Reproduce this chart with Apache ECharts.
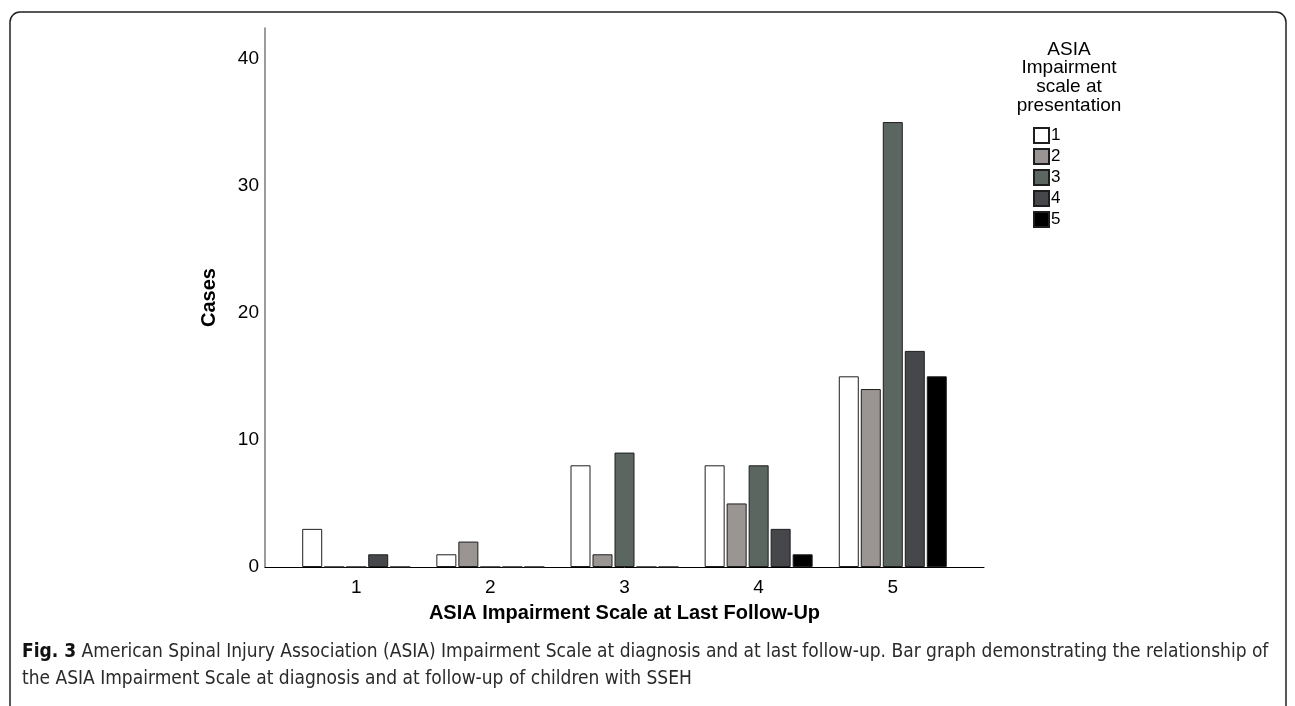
<!DOCTYPE html>
<html>
<head>
<meta charset="utf-8">
<script src="https://cdn.jsdelivr.net/npm/echarts@6/dist/echarts.min.js"></script>
<style>
  html, body { margin: 0; padding: 0; background: #fff; }
  #chart { width: 1295px; height: 706px; }
</style>
</head>
<body>
<div id="chart"></div>
<script>
// Categories: ASIA Impairment Scale at Last Follow-Up
const categories = [1, 2, 3, 4, 5];
// Series: ASIA Impairment scale at presentation
const seriesNames = ['1', '2', '3', '4', '5'];
const presentation1 = [3, 1, 8, 8, 15];
const presentation2 = [0, 2, 1, 5, 14];
const presentation3 = [0, 0, 9, 8, 35];
const presentation4 = [1, 0, 0, 3, 17];
const presentation5 = [0, 0, 0, 1, 15];
const yTicks = [0, 10, 20, 30, 40];

const seriesValues = [presentation1, presentation2, presentation3, presentation4, presentation5];
const colors = ['#ffffff', '#9a9593', '#5b6660', '#46474a', '#000000'];

const fontMain = "'Liberation Sans', Arial, Helvetica, sans-serif";
const fontCaption = "'Liberation Sans Narrow', 'DejaVu Sans Condensed', 'Open Sans', sans-serif";

const chart = echarts.init(document.getElementById('chart'), null, { renderer: 'canvas' });

const series = seriesValues.map((vals, i) => ({
  name: seriesNames[i],
  type: 'bar',
  data: categories.map((c, j) => [c, vals[j]]),
  barWidth: 20,
  barGap: '10%',
  itemStyle: {
    color: colors[i],
    borderColor: '#1e1e1e',
    borderWidth: 1
  },
  emphasis: { disabled: true },
  animation: false
}));

const option = {
  animation: false,
  backgroundColor: '#ffffff',
  grid: {
    left: 265,
    top: 28,
    width: 719,
    height: 539,
    containLabel: false
  },
  legend: {
    orient: 'vertical',
    left: 1028,
    top: 122,
    itemWidth: 15,
    itemHeight: 15,
    itemGap: 4,
    icon: 'rect',
    selectedMode: false,
    data: seriesNames,
    textStyle: { fontFamily: fontMain, fontSize: 17, color: '#000', padding: [0, 0, 0, -3] }
  },
  xAxis: {
    type: 'value',
    min: 0.32,
    max: 5.68,
    name: 'ASIA Impairment Scale at Last Follow-Up',
    nameLocation: 'middle',
    nameGap: 36,
    nameTextStyle: { fontFamily: fontMain, fontSize: 20, fontWeight: 'bold', color: '#000' },
    axisLine: { show: true, lineStyle: { color: '#000', width: 1 } },
    axisTick: { show: false },
    splitLine: { show: false },
    axisLabel: {
      showMinLabel: false,
      showMaxLabel: false,
      margin: 11,
      fontFamily: fontMain,
      fontSize: 19,
      color: '#000',
      formatter: function (v) {
        return categories.indexOf(v) >= 0 ? String(v) : '';
      }
    }
  },
  yAxis: {
    type: 'value',
    min: 0,
    max: 42.4,
    interval: 10,
    name: 'Cases',
    nameLocation: 'middle',
    nameGap: 46,
    nameRotate: 90,
    nameTextStyle: { fontFamily: fontMain, fontSize: 20, fontWeight: 'bold', color: '#000' },
    axisLine: { show: true, lineStyle: { color: '#7a7a7a', width: 1.5 } },
    axisTick: { show: false },
    splitLine: { show: false },
    axisLabel: {
      showMaxLabel: false,
      margin: 6,
      fontFamily: fontMain,
      fontSize: 19,
      color: '#000',
      formatter: function (v) {
        return yTicks.indexOf(v) >= 0 ? String(v) : '';
      }
    }
  },
  graphic: [
    {
      type: 'rect',
      silent: true,
      shape: { x: 10, y: 12, width: 1276, height: 730, r: 10 },
      style: { fill: 'none', stroke: '#222', lineWidth: 1.5 }
    },
    {
      type: 'text',
      silent: true,
      x: 1069,
      y: 40,
      style: {
        text: 'ASIA\nImpairment\nscale at\npresentation',
        align: 'center',
        verticalAlign: 'top',
        fontFamily: fontMain,
        fontSize: 19,
        lineHeight: 18.7,
        fill: '#000'
      }
    },
    {
      type: 'text',
      silent: true,
      x: 22,
      y: 652,
      style: {
        text: '{b|Fig. 3} American Spinal Injury Association (ASIA) Impairment Scale at diagnosis and at last follow-up. Bar graph demonstrating the relationship of',
        verticalAlign: 'middle',
        fontFamily: fontCaption,
        fontSize: 19,
        fill: '#2a2a2a',
        rich: {
          b: { fontFamily: fontCaption, fontSize: 19, fontWeight: 'bold', fill: '#111' }
        }
      }
    },
    {
      type: 'text',
      silent: true,
      x: 22,
      y: 679,
      style: {
        text: 'the ASIA Impairment Scale at diagnosis and at follow-up of children with SSEH',
        verticalAlign: 'middle',
        fontFamily: fontCaption,
        fontSize: 19,
        fill: '#2a2a2a'
      }
    }
  ],
  series: series
};

chart.setOption(option);
</script>
</body>
</html>
